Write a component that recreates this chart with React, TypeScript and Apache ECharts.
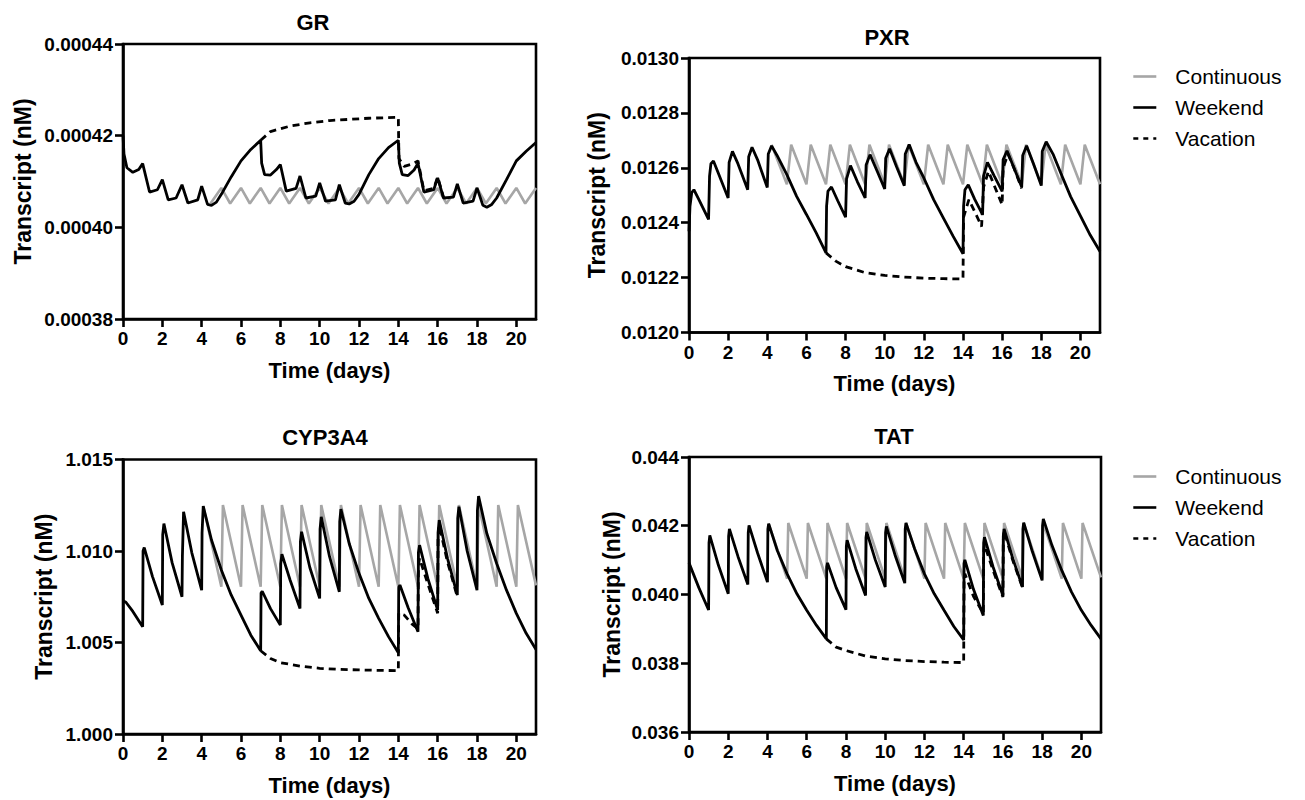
import React, { useEffect, useRef } from "react";
import * as echarts from "echarts";

// ---------- tick labels ----------
const xTicks = [0, 2, 4, 6, 8, 10, 12, 14, 16, 18, 20];
const grTicks = [0.00038, 0.0004, 0.00042, 0.00044];
const pxrTicks = [0.012, 0.0122, 0.0124, 0.0126, 0.0128, 0.013];
const cypTicks = [1.0, 1.005, 1.01, 1.015];
const tatTicks = [0.036, 0.038, 0.04, 0.042, 0.044];

const seriesNames = ["Continuous", "Weekend", "Vacation"];

// ---------- GR ----------
const grWeekend = [
  [0, 4.2e-4], [0.05, 4.16e-4], [0.2, 4.13e-4], [0.5, 4.12e-4], [0.8, 4.126e-4], [1.0, 4.139e-4],
  [1.35, 4.077e-4], [1.75, 4.082e-4], [2.0, 4.104e-4], [2.3, 4.06e-4], [2.7, 4.064e-4], [3.0, 4.093e-4],
  [3.3, 4.053e-4], [3.8, 4.06e-4], [4.0, 4.09e-4], [4.3, 4.05e-4], [4.5, 4.048e-4], [4.75, 4.055e-4],
  [5.0, 4.072e-4], [5.5, 4.11e-4], [6.0, 4.145e-4], [6.5, 4.17e-4], [7.0, 4.19e-4], [7.05, 4.14e-4],
  [7.2, 4.115e-4], [7.5, 4.114e-4], [7.8, 4.126e-4], [8.0, 4.137e-4], [8.3, 4.079e-4], [8.8, 4.085e-4],
  [9.0, 4.112e-4], [9.3, 4.064e-4], [9.8, 4.068e-4], [10.0, 4.097e-4], [10.3, 4.057e-4], [10.8, 4.06e-4],
  [11.0, 4.093e-4], [11.3, 4.053e-4], [11.5, 4.051e-4], [11.75, 4.057e-4], [12.0, 4.072e-4], [12.5, 4.115e-4],
  [13.0, 4.15e-4], [13.5, 4.174e-4], [14.0, 4.19e-4], [14.05, 4.14e-4], [14.2, 4.115e-4], [14.5, 4.113e-4],
  [14.8, 4.125e-4], [15.0, 4.14e-4], [15.3, 4.077e-4], [15.8, 4.082e-4], [16.0, 4.108e-4], [16.3, 4.064e-4],
  [16.8, 4.066e-4], [17.0, 4.095e-4], [17.3, 4.053e-4], [17.8, 4.057e-4], [18.0, 4.086e-4], [18.3, 4.048e-4],
  [18.5, 4.044e-4], [18.75, 4.05e-4], [19.0, 4.064e-4], [19.5, 4.104e-4], [20.0, 4.145e-4], [20.5, 4.166e-4],
  [21.0, 4.185e-4],
];
const grVacation = [
  [7.0, 4.19e-4], [7.5, 4.209e-4], [8.5, 4.221e-4], [9.5, 4.228e-4], [10.5, 4.233e-4], [12.5, 4.238e-4],
  [14.0, 4.24e-4], [14.03, 4.15e-4], [14.3, 4.133e-4], [14.7, 4.138e-4], [15.0, 4.145e-4], [15.3, 4.08e-4],
  [15.8, 4.085e-4], [16.0, 4.11e-4], [16.3, 4.065e-4],
];
const grContinuous = [
  [4.45, 4.052e-4], [5.0, 4.086e-4], [5.45, 4.052e-4], [6.0, 4.086e-4], [6.45, 4.052e-4], [7.0, 4.086e-4],
  [7.45, 4.052e-4], [8.0, 4.086e-4], [8.45, 4.052e-4], [9.0, 4.086e-4], [9.45, 4.052e-4], [10.0, 4.086e-4],
  [10.45, 4.052e-4], [11.0, 4.086e-4], [11.45, 4.052e-4], [12.0, 4.086e-4], [12.45, 4.052e-4], [13.0, 4.086e-4],
  [13.45, 4.052e-4], [14.0, 4.086e-4], [14.45, 4.052e-4], [15.0, 4.086e-4], [15.45, 4.052e-4], [16.0, 4.086e-4],
  [16.45, 4.052e-4], [17.0, 4.086e-4], [17.45, 4.052e-4], [18.0, 4.086e-4], [18.45, 4.052e-4], [19.0, 4.086e-4],
  [19.45, 4.052e-4], [20.0, 4.086e-4], [20.45, 4.052e-4], [21.0, 4.086e-4],
];

// ---------- PXR ----------
const pxrWeekend = [
  [0, 0.012369], [0.05, 0.01246], [0.14, 0.01251], [0.25, 0.01252], [0.5, 0.012485], [1.0, 0.012412],
  [1.05, 0.01257], [1.12, 0.012615], [1.25, 0.012625], [1.5, 0.01258], [2.0, 0.01249], [2.05, 0.01262],
  [2.22, 0.01266], [2.5, 0.012615], [3.0, 0.01252], [3.05, 0.01264], [3.22, 0.012675], [3.5, 0.01263],
  [4.0, 0.012528], [4.05, 0.01265], [4.22, 0.01268], [4.5, 0.012645], [5.0, 0.012575], [5.5, 0.012496],
  [6.0, 0.01243], [6.5, 0.012363], [7.0, 0.01229], [7.03, 0.01246], [7.1, 0.012515], [7.28, 0.01253],
  [7.6, 0.01248], [8.0, 0.01242], [8.05, 0.01256], [8.25, 0.012608], [8.6, 0.01255], [9.0, 0.01249],
  [9.05, 0.01261], [9.25, 0.012648], [9.6, 0.01259], [10.0, 0.012523], [10.05, 0.012635], [10.25, 0.012669],
  [10.6, 0.012605], [11.0, 0.012535], [11.05, 0.01265], [11.25, 0.012685], [11.6, 0.01262], [12.0, 0.012563],
  [12.5, 0.012484], [13.0, 0.012417], [13.5, 0.01235], [14.0, 0.012287], [14.03, 0.01246], [14.1, 0.01252],
  [14.27, 0.012538], [14.6, 0.012485], [15.0, 0.012429], [15.05, 0.01257], [15.25, 0.01262], [15.6, 0.01257],
  [16.0, 0.012514], [16.05, 0.01263], [16.25, 0.012662], [16.6, 0.0126], [17.0, 0.01253], [17.05, 0.012645],
  [17.25, 0.01268], [17.6, 0.012615], [18.0, 0.012535], [18.05, 0.01266], [18.25, 0.012695], [18.6, 0.01265],
  [19.0, 0.01258], [19.5, 0.012495], [20.0, 0.012425], [20.5, 0.012355], [21.0, 0.012295],
];
const pxrVacation = [
  [7.0, 0.01229], [7.5, 0.01226], [8.0, 0.01224], [9.0, 0.012218], [10.0, 0.012208], [11.0, 0.012202],
  [12.0, 0.012198], [13.0, 0.012196], [14.0, 0.012195], [14.03, 0.01242], [14.3, 0.012484], [14.6, 0.01244],
  [14.95, 0.012386], [15.05, 0.01253], [15.3, 0.012587], [15.6, 0.012535], [16.0, 0.012465], [16.05, 0.0126],
  [16.3, 0.01265], [16.6, 0.0126], [17.0, 0.012525],
];
const pxrContinuous = [
  [4.22, 0.012684], [5.0, 0.01254], [5.22, 0.012684], [6.0, 0.01254], [6.22, 0.012684], [7.0, 0.01254],
  [7.22, 0.012684], [8.0, 0.01254], [8.22, 0.012684], [9.0, 0.01254], [9.22, 0.012684], [10.0, 0.01254],
  [10.22, 0.012684], [11.0, 0.01254], [11.22, 0.012684], [12.0, 0.01254], [12.22, 0.012684], [13.0, 0.01254],
  [13.22, 0.012684], [14.0, 0.01254], [14.22, 0.012684], [15.0, 0.01254], [15.22, 0.012684], [16.0, 0.01254],
  [16.22, 0.012684], [17.0, 0.01254], [17.22, 0.012684], [18.0, 0.01254], [18.22, 0.012684], [19.0, 0.01254],
  [19.22, 0.012684], [20.0, 0.01254], [20.22, 0.012684], [21.0, 0.01254],
];

// ---------- CYP3A4 ----------
const cypWeekend = [
  [0, 1.00728], [0.15, 1.0072], [0.5, 1.0067], [1.0, 1.00586], [1.02, 1.01], [1.08, 1.01019], [1.5, 1.0086],
  [2.0, 1.00705], [2.02, 1.0109], [2.08, 1.0115], [2.5, 1.00935], [3.0, 1.0075], [3.02, 1.0097], [3.08, 1.01214],
  [3.5, 1.0099], [4.0, 1.00786], [4.02, 1.011], [4.08, 1.01245], [4.5, 1.0106], [5.0, 1.00896], [5.5, 1.0076],
  [6.0, 1.0065], [6.5, 1.0054], [7.0, 1.00455], [7.02, 1.0077], [7.08, 1.0078], [7.5, 1.00685], [8.0, 1.00595],
  [8.02, 1.0093], [8.08, 1.00983], [8.5, 1.0084], [9.0, 1.00686], [9.02, 1.0105], [9.08, 1.01105], [9.5, 1.0091],
  [10.0, 1.00741], [10.02, 1.0112], [10.08, 1.01187], [10.5, 1.0097], [11.0, 1.00777], [11.02, 1.0116],
  [11.08, 1.01229], [11.5, 1.01041], [12.0, 1.00878], [12.5, 1.00741], [13.0, 1.00632], [13.5, 1.00532],
  [14.0, 1.00444], [14.02, 1.008], [14.08, 1.00814], [14.5, 1.0069], [15.0, 1.00559], [15.02, 1.0099],
  [15.08, 1.01032], [15.5, 1.0085], [16.0, 1.00677], [16.02, 1.011], [16.08, 1.01169], [16.5, 1.0096],
  [17.0, 1.00759], [17.02, 1.0118], [17.08, 1.01242], [17.5, 1.01], [18.0, 1.00786], [18.02, 1.0122],
  [18.08, 1.013], [18.5, 1.01096], [19.0, 1.00932], [19.5, 1.00786], [20.0, 1.00659], [20.5, 1.0055],
  [21.0, 1.00462],
];
const cypVacation = [
  [7.0, 1.00455], [7.5, 1.00413], [8.0, 1.0039], [9.0, 1.00371], [10.0, 1.00359], [11.0, 1.00353],
  [12.0, 1.0035], [13.0, 1.00348], [14.0, 1.00346], [14.02, 1.0066], [14.3, 1.0065], [14.7, 1.006],
  [15.0, 1.00575], [15.02, 1.0092], [15.08, 1.0096], [15.5, 1.0082], [16.0, 1.0066], [16.02, 1.0108],
  [16.08, 1.0114], [16.5, 1.0094], [17.0, 1.0075],
];
const cypContinuous = [
  [4.08, 1.01245], [5.0, 1.00805], [5.08, 1.01251], [6.0, 1.00805], [6.08, 1.01251], [7.0, 1.00805],
  [7.08, 1.01251], [8.0, 1.00805], [8.08, 1.01251], [9.0, 1.00805], [9.08, 1.01251], [10.0, 1.00805],
  [10.08, 1.01251], [11.0, 1.00805], [11.08, 1.01251], [12.0, 1.00805], [12.08, 1.01251], [13.0, 1.00805],
  [13.08, 1.01251], [14.0, 1.00805], [14.08, 1.01251], [15.0, 1.00805], [15.08, 1.01251], [16.0, 1.00805],
  [16.08, 1.01251], [17.0, 1.00805], [17.08, 1.01251], [18.0, 1.00805], [18.08, 1.01251], [19.0, 1.00805],
  [19.08, 1.01251], [20.0, 1.00805], [20.08, 1.01251], [21.0, 1.00812],
];

// ---------- TAT ----------
const tatWeekend = [
  [0, 0.04092], [0.5, 0.0402], [1.0, 0.03955], [1.02, 0.0415], [1.06, 0.04172], [1.5, 0.04085], [2.0, 0.04002],
  [2.02, 0.0417], [2.06, 0.04191], [2.5, 0.0411], [3.0, 0.04029], [3.02, 0.0418], [3.06, 0.04201], [3.5, 0.0412],
  [4.0, 0.04036], [4.02, 0.0419], [4.06, 0.04206], [4.5, 0.04128], [5.0, 0.0406], [5.5, 0.04002], [6.0, 0.03954],
  [6.5, 0.0391], [7.0, 0.03871], [7.02, 0.0408], [7.06, 0.04092], [7.5, 0.0402], [8.0, 0.03956], [8.02, 0.0414],
  [8.06, 0.04158], [8.5, 0.04075], [9.0, 0.03997], [9.02, 0.04165], [9.06, 0.04182], [9.5, 0.041], [10.0, 0.04022],
  [10.02, 0.0418], [10.06, 0.04198], [10.5, 0.04115], [11.0, 0.04033], [11.02, 0.0419], [11.06, 0.04208],
  [11.5, 0.04133], [12.0, 0.0406], [12.5, 0.04002], [13.0, 0.03954], [13.5, 0.03907], [14.0, 0.03868],
  [14.02, 0.0409], [14.06, 0.04101], [14.5, 0.04015], [15.0, 0.03939], [15.02, 0.0415], [15.06, 0.04167],
  [15.5, 0.0408], [16.0, 0.03997], [16.02, 0.0417], [16.06, 0.04191], [16.5, 0.04105], [17.0, 0.04022],
  [17.02, 0.0419], [17.06, 0.04209], [17.5, 0.04125], [18.0, 0.04041], [18.02, 0.042], [18.06, 0.0422],
  [18.5, 0.04143], [19.0, 0.0407], [19.5, 0.04007], [20.0, 0.03954], [20.5, 0.0391], [21.0, 0.03871],
];
const tatVacation = [
  [7.0, 0.03871], [7.5, 0.03847], [8.0, 0.03837], [9.0, 0.03821], [10.0, 0.03813], [11.0, 0.03808],
  [12.0, 0.03805], [13.0, 0.03803], [14.0, 0.03802], [14.02, 0.0405], [14.06, 0.0406], [14.5, 0.03995],
  [15.0, 0.03945], [15.02, 0.0412], [15.06, 0.04145], [15.5, 0.0407], [16.0, 0.03993], [16.02, 0.0416],
  [16.06, 0.04185], [16.5, 0.041], [17.0, 0.0402],
];
const tatContinuous = [
  [4.06, 0.04206], [5.0, 0.04046], [5.06, 0.04208], [6.0, 0.04046], [6.06, 0.04208], [7.0, 0.04046],
  [7.06, 0.04208], [8.0, 0.04046], [8.06, 0.04208], [9.0, 0.04046], [9.06, 0.04208], [10.0, 0.04046],
  [10.06, 0.04208], [11.0, 0.04046], [11.06, 0.04208], [12.0, 0.04046], [12.06, 0.04208], [13.0, 0.04046],
  [13.06, 0.04208], [14.0, 0.04046], [14.06, 0.04208], [15.0, 0.04046], [15.06, 0.04208], [16.0, 0.04046],
  [16.06, 0.04208], [17.0, 0.04046], [17.06, 0.04208], [18.0, 0.04046], [18.06, 0.04208], [19.0, 0.04046],
  [19.06, 0.04208], [20.0, 0.04046], [20.06, 0.04208], [21.0, 0.0405],
];

const FONT = "'Liberation Sans', Arial, Helvetica, sans-serif";
const GRAY = "#a6a6a6";

const panels = [
  {
    title: "GR", tx: 313, ty: 22,
    grid: { left: 123, top: 44, width: 413, height: 275 },
    min: 0.00038, max: 0.00044, ticks: grTicks, dec: 5, nameGap: 89,
    data: [grContinuous, grWeekend, grVacation],
  },
  {
    title: "PXR", tx: 887, ty: 37,
    grid: { left: 689, top: 58, width: 411, height: 274.5 },
    min: 0.012, max: 0.013, ticks: pxrTicks, dec: 4, nameGap: 81,
    data: [pxrContinuous, pxrWeekend, pxrVacation],
  },
  {
    title: "CYP3A4", tx: 325, ty: 437,
    grid: { left: 123, top: 459.5, width: 413, height: 274.5 },
    min: 1.0, max: 1.015, ticks: cypTicks, dec: 3, nameGap: 68,
    data: [cypContinuous, cypWeekend, cypVacation],
  },
  {
    title: "TAT", tx: 894, ty: 436,
    grid: { left: 689, top: 457, width: 412, height: 275 },
    min: 0.036, max: 0.044, ticks: tatTicks, dec: 3, nameGap: 66,
    data: [tatContinuous, tatWeekend, tatVacation],
  },
];

export default function App() {
  const ref = useRef<HTMLDivElement>(null);
  useEffect(() => {
    document.body.style.margin = "0";
    if (!ref.current) return;
    const chart = echarts.init(ref.current, undefined, { renderer: "svg" });

    const axisLine = { show: true, onZero: false, lineStyle: { color: "#000", width: 2.6 } };
    const axisTickBase = { show: true, inside: false, length: 8, lineStyle: { color: "#000", width: 2.6 } };
    const labelBase = { color: "#000", fontFamily: FONT, fontSize: 19, fontWeight: "bold" as const };
    const xNameStyle = { color: "#000", fontFamily: FONT, fontSize: 22, fontWeight: "bold" as const };
    const yNameStyle = { color: "#000", fontFamily: FONT, fontSize: 23, fontWeight: "bold" as const };

    const grids = panels.map((p) => ({
      ...p.grid,
      show: true,
      borderColor: "#000",
      borderWidth: 2.6,
      backgroundColor: "transparent",
      containLabel: false,
    }));

    const xAxes = panels.map((p, i) => ({
      type: "value",
      gridIndex: i,
      min: 0,
      max: 21,
      axisLine,
      axisTick: { ...axisTickBase, customValues: xTicks },
      axisLabel: { ...labelBase, margin: 10, customValues: xTicks, formatter: (v: number) => String(v) },
      splitLine: { show: false },
      name: "Time (days)",
      nameLocation: "middle",
      nameGap: 40,
      nameTextStyle: xNameStyle,
    }));

    const yAxes = panels.map((p, i) => ({
      type: "value",
      gridIndex: i,
      min: p.min,
      max: p.max,
      axisLine,
      axisTick: { ...axisTickBase, customValues: p.ticks },
      axisLabel: {
        ...labelBase,
        margin: 10,
        customValues: p.ticks,
        formatter: (v: number) => v.toFixed(p.dec),
      },
      splitLine: { show: false },
      name: "Transcript (nM)",
      nameLocation: "middle",
      nameGap: p.nameGap,
      nameTextStyle: yNameStyle,
    }));

    const styles = [
      { color: GRAY, width: 2.6, type: "solid", z: 2 },
      { color: "#000", width: 2.8, type: "solid", z: 4 },
      { color: "#000", width: 2.8, type: [7, 5], z: 3 },
    ];
    const series: any[] = [];
    panels.forEach((p, i) => {
      seriesNames.forEach((name, k) => {
        series.push({
          type: "line",
          name,
          xAxisIndex: i,
          yAxisIndex: i,
          data: p.data[k],
          symbol: "none",
          showSymbol: false,
          z: styles[k].z,
          itemStyle: { color: styles[k].color },
          lineStyle: { color: styles[k].color, width: styles[k].width, type: styles[k].type },
        });
      });
    });

    const legendBase = {
      orient: "vertical",
      left: 1127,
      itemWidth: 23,
      itemHeight: 14,
      itemGap: 10,
      selectedMode: false,
      itemStyle: { opacity: 0 },
      data: seriesNames.map((name, k) => ({
        name,
        itemStyle: { opacity: 0 },
        lineStyle: { color: styles[k].color, width: 2.6, type: k === 2 ? [5, 5] : "solid" },
      })),
      textStyle: { color: "#000", fontFamily: FONT, fontSize: 21, padding: [0, 0, 0, 14] },
    };

    chart.setOption({
      animation: false,
      backgroundColor: "#fff",
      grid: grids,
      xAxis: xAxes,
      yAxis: yAxes,
      series,
      legend: [
        { ...legendBase, top: 61 },
        { ...legendBase, top: 461 },
      ],
      graphic: panels.map((p) => ({
        type: "text",
        x: p.tx,
        y: p.ty,
        style: {
          text: p.title,
          fill: "#000",
          font: `bold 22px ${FONT}`,
          align: "center",
          verticalAlign: "middle",
        },
      })),
    });

    return () => chart.dispose();
  }, []);

  return <div ref={ref} style={{ width: 1305, height: 800 }} />;
}
